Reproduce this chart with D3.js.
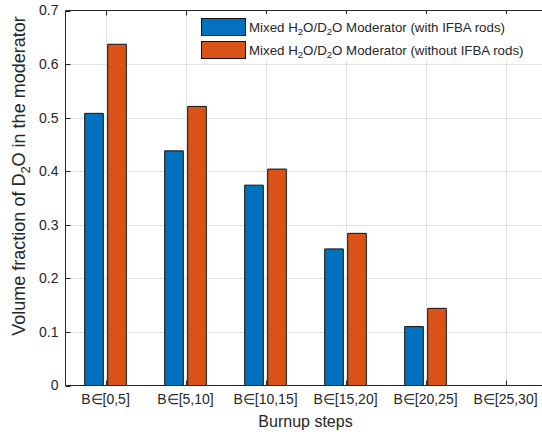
<!DOCTYPE html>
<html>
<head>
<meta charset="utf-8">
<script src="https://cdn.jsdelivr.net/npm/d3@7"></script>
<style>
  body { margin: 0; background: #fff; }
  svg { display: block; font-family: "Liberation Sans", Arial, Helvetica, sans-serif; }
</style>
</head>
<body>
<svg id="chart" width="542" height="434"></svg>
<script>
// burnup step categories (tick labels)
var categories = ["B\u2208[0,5]", "B\u2208[5,10]", "B\u2208[10,15]", "B\u2208[15,20]", "B\u2208[20,25]", "B\u2208[25,30]"];

// D2O volume fraction per step
var withIFBA    = [0.508, 0.438, 0.374, 0.255, 0.110, 0];
var withoutIFBA = [0.637, 0.521, 0.404, 0.284, 0.144, 0];

var seriesNames = ["Mixed H_2O/D_2O Moderator (with IFBA rods)",
                   "Mixed H_2O/D_2O Moderator (without IFBA rods)"];
var seriesColors = ["#0072BD", "#D95319"];

var yTicks = [0, 0.1, 0.2, 0.3, 0.4, 0.5, 0.6, 0.7];

var axisColor = "#262626";
var gridColor = "#e2e2e2";

var svg = d3.select("#chart");

// axes box (right side runs past the window, as in the original)
var plotLeft = 65.5, plotTop = 10.5, plotBottom = 385.5;
var plotRight = plotLeft + 80 * categories.length;

var x = d3.scaleBand()
    .domain(categories)
    .range([plotLeft, plotRight])
    .paddingInner(0)
    .paddingOuter(0);

var xSub = d3.scaleBand()
    .domain([0, 1])
    .range([-x.bandwidth() * 0.26, x.bandwidth() * 0.26])
    .paddingInner(0.19);

var y = d3.scaleLinear()
    .domain([0, 0.7])
    .range([plotBottom, plotTop]);

function cx(c) { return x(c) + x.bandwidth() / 2; }

// write "H_2O" style text as tspans with subscripts
function texText(sel, str, size) {
    var parts = str.split(/_(\d)/);
    for (var i = 0; i < parts.length; i++) {
        if (i % 2 === 0) {
            if (parts[i].length) sel.append("tspan").text(parts[i]);
        } else {
            sel.append("tspan")
                .attr("font-size", size * 0.72)
                .attr("dy", size * 0.3)
                .text(parts[i]);
            // next chunk goes back up
            if (i + 1 < parts.length) {
                sel.append("tspan").attr("dy", -size * 0.3).text(parts[i + 1]);
                i++;
            }
        }
    }
}

var g = svg.append("g");

// grid
g.selectAll("line.ygrid")
    .data(yTicks.filter(function(d) { return d > 0 && d < 0.7; }))
    .enter().append("line")
    .attr("class", "ygrid")
    .attr("x1", plotLeft).attr("x2", plotRight)
    .attr("y1", function(d) { return Math.round(y(d)) + 0.5; })
    .attr("y2", function(d) { return Math.round(y(d)) + 0.5; })
    .attr("stroke", gridColor);

g.selectAll("line.xgrid")
    .data(categories)
    .enter().append("line")
    .attr("class", "xgrid")
    .attr("x1", function(d) { return Math.round(cx(d)) + 0.5; })
    .attr("x2", function(d) { return Math.round(cx(d)) + 0.5; })
    .attr("y1", plotTop).attr("y2", plotBottom)
    .attr("stroke", gridColor);

// bars (paths so zero-height bars still show their edge)
var seriesData = [withIFBA, withoutIFBA];
seriesData.forEach(function(vals, s) {
    g.selectAll("path.bar" + s)
        .data(vals)
        .enter().append("path")
        .attr("class", "bar" + s)
        .attr("d", function(v, i) {
            var x0 = cx(categories[i]) + xSub(s);
            var w = xSub.bandwidth();
            var y0 = y(0), y1 = y(v);
            return "M" + x0 + "," + y0 + "V" + y1 + "H" + (x0 + w) + "V" + y0 + "Z";
        })
        .attr("fill", seriesColors[s])
        .attr("stroke", "#111")
        .attr("stroke-width", 1);
});

// axis lines
g.append("line").attr("x1", plotLeft).attr("x2", plotRight).attr("y1", plotBottom).attr("y2", plotBottom)
    .attr("stroke", axisColor);
g.append("line").attr("x1", plotLeft).attr("x2", plotRight).attr("y1", plotTop).attr("y2", plotTop)
    .attr("stroke", axisColor);
g.append("line").attr("x1", plotLeft).attr("x2", plotLeft).attr("y1", plotTop).attr("y2", plotBottom)
    .attr("stroke", axisColor);

// ticks, all pointing inward
g.selectAll("line.ytick")
    .data(yTicks)
    .enter().append("line")
    .attr("x1", plotLeft).attr("x2", plotLeft + 5)
    .attr("y1", function(d) { return Math.round(y(d)) + 0.5; })
    .attr("y2", function(d) { return Math.round(y(d)) + 0.5; })
    .attr("stroke", axisColor);

categories.forEach(function(c) {
    var xx = Math.round(cx(c)) + 0.5;
    g.append("line").attr("x1", xx).attr("x2", xx).attr("y1", plotBottom).attr("y2", plotBottom - 5)
        .attr("stroke", axisColor);
    g.append("line").attr("x1", xx).attr("x2", xx).attr("y1", plotTop).attr("y2", plotTop + 5)
        .attr("stroke", axisColor);
});

// tick labels
g.selectAll("text.ylab")
    .data(yTicks)
    .enter().append("text")
    .attr("x", plotLeft - 7)
    .attr("y", function(d) { return y(d); })
    .attr("dy", "0.35em")
    .attr("text-anchor", "end")
    .attr("font-size", 14)
    .attr("fill", axisColor)
    .text(function(d) { return d3.format("")(d); });

g.selectAll("text.xlab")
    .data(categories)
    .enter().append("text")
    .attr("x", function(d) { return cx(d); })
    .attr("y", 404)
    .attr("text-anchor", "middle")
    .attr("font-size", 14)
    .attr("fill", axisColor)
    .text(function(d) { return d; });

// axis titles
g.append("text")
    .attr("x", cx(categories[2]) + 40)
    .attr("y", 427)
    .attr("text-anchor", "middle")
    .attr("font-size", 16)
    .attr("fill", axisColor)
    .text("Burnup steps");

var ylab = g.append("text")
    .attr("transform", "translate(25,176) rotate(-90)")
    .attr("text-anchor", "middle")
    .attr("font-size", 18)
    .attr("fill", axisColor);
texText(ylab, "Volume fraction of D_2O in the moderator", 18);

// legend
var legend = g.append("g");
legend.append("rect")
    .attr("x", 196).attr("y", 14)
    .attr("width", 336).attr("height", 48)
    .attr("fill", "#fff");

seriesNames.forEach(function(name, s) {
    var ly = 18.5 + s * 23;
    legend.append("rect")
        .attr("x", 201.5).attr("y", ly)
        .attr("width", 44).attr("height", 17)
        .attr("fill", seriesColors[s])
        .attr("stroke", "#111");
    var t = legend.append("text")
        .attr("x", 249)
        .attr("y", ly + 13)
        .attr("font-size", 13.3)
        .attr("fill", axisColor);
    texText(t, name, 13.3);
});
</script>
</body>
</html>
